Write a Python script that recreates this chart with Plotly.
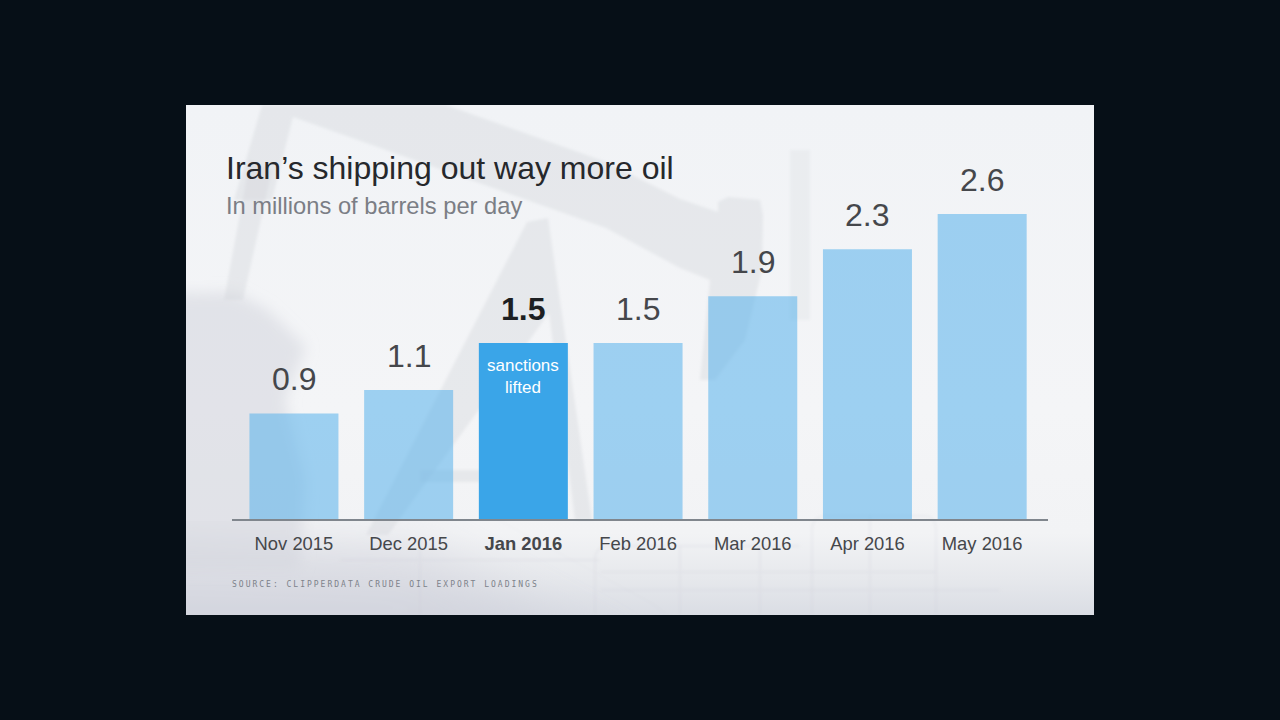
import base64
import plotly.graph_objects as go

months = ["Nov 2015", "Dec 2015", "Jan 2016", "Feb 2016", "Mar 2016", "Apr 2016", "May 2016"]
barrels = [0.9, 1.1, 1.5, 1.5, 1.9, 2.3, 2.6]
highlight = "Jan 2016"

W, H = 1280, 720

# faded oil pump picture behind the card, pixel coords of the page
background = """
<svg xmlns="http://www.w3.org/2000/svg" width="1280" height="720" viewBox="0 0 1280 720">
<defs>
<linearGradient id="card" x1="0" y1="0" x2="0" y2="1">
<stop offset="0" stop-color="#f1f3f6"/><stop offset="0.6" stop-color="#f4f5f7"/>
<stop offset="0.84" stop-color="#f2f3f5"/><stop offset="0.93" stop-color="#e6e8ec"/>
<stop offset="1" stop-color="#dadde4"/>
</linearGradient>
<filter id="soft"><feGaussianBlur stdDeviation="1.5"/></filter>
<filter id="mid"><feGaussianBlur stdDeviation="7"/></filter>
<filter id="haze"><feGaussianBlur stdDeviation="26"/></filter>
<clipPath id="c"><rect x="186" y="105" width="908" height="510"/></clipPath>
</defs>
<rect width="1280" height="720" fill="#060f17"/>
<rect x="186" y="105" width="908" height="510" fill="url(#card)"/>
<g clip-path="url(#c)">
<polygon points="130,535 420,545 650,670 130,670" fill="#c9cdd6" fill-opacity="0.45" filter="url(#haze)"/>
<polygon points="170,293 235,292 268,310 306,347 285,400 305,480 300,570 170,570" fill="#d3d6dd" fill-opacity="0.55" filter="url(#mid)"/>
<g filter="url(#soft)">
<g fill="#cfd2d8" fill-opacity="0.36">
<polygon points="262,105 446,105 606,162 680,199 718,212 718,202 728,197 760,200 763,215 762,270 745,340 715,380 700,380 710,280 680,268 606,228 293,117 272,200 234,200"/>
<polygon points="250,160 272,170 243,300 224,300"/>
<polygon points="527,222 548,218 592,520 575,520 549,313 388,535 366,535"/>
<polygon points="420,470 480,470 480,482 420,482"/>
</g>
<polygon points="790,150 810,150 810,320 790,320" fill="#d8dade" fill-opacity="0.28"/>
<g fill="none" stroke="#c8ccd3" stroke-opacity="0.28" stroke-width="1.5">
<path d="M595 615V560q0-14 14-14H800"/><path d="M812 615V530q0-14 14-14H924q12 0 12 14V615"/>
<path d="M600 572H936M600 590H1000M680 546V615M760 546V615M870 516V615"/>
<path d="M340 560H600M420 540V615"/>
</g>
</g>
</g>
</svg>
"""
background_uri = "data:image/svg+xml;base64," + base64.b64encode(background.encode()).decode()

bar_colors = ["#3aa5e8" if m == highlight else "rgba(90,178,235,0.56)" for m in months]
tick_labels = [f"<b>{m}</b>" if m == highlight else m for m in months]

fig = go.Figure(go.Bar(
    x=months,
    y=barrels,
    marker=dict(color=bar_colors, line_width=0),
    hoverinfo="skip",
))

# value labels above the bars
for m, v in zip(months, barrels):
    is_hl = m == highlight
    fig.add_annotation(
        x=m, y=v, yanchor="bottom", yshift=14, showarrow=False,
        text=f"<b>{v}</b>" if is_hl else str(v),
        font=dict(family="Liberation Sans", size=32, color="#1d1f22" if is_hl else "#45474b"),
    )

fig.add_annotation(
    x=highlight, y=barrels[months.index(highlight)], yanchor="top", yshift=-11,
    showarrow=False, text="sanctions<br>lifted", align="center",
    font=dict(family="Liberation Sans", size=17, color="#ffffff"),
)

fig.add_annotation(
    xref="paper", yref="paper", x=224 / W, y=1 - 206 / H, xanchor="left", yanchor="middle",
    showarrow=False, align="left", text="In millions of barrels per day",
    font=dict(family="Liberation Sans", size=23.7, color="#7b7e85"),
)
fig.add_annotation(
    xref="paper", yref="paper", x=230 / W, y=1 - 584 / H, xanchor="left", yanchor="middle",
    showarrow=False, align="left", text="SOURCE: CLIPPERDATA CRUDE OIL EXPORT LOADINGS",
    font=dict(family="DejaVu Sans Mono", size=8, color="#7d828a"),
)

fig.update_layout(
    width=W,
    height=H,
    margin=dict(l=0, r=0, t=0, b=0),
    paper_bgcolor="#060f17",
    plot_bgcolor="rgba(0,0,0,0)",
    showlegend=False,
    bargap=0.224,
    title=dict(
        text="Iran’s shipping out way more oil",
        x=226 / W, xanchor="left", y=1 - 168 / H, yanchor="middle",
        font=dict(family="Liberation Sans", size=32, color="#26282c"),
    ),
    images=[dict(
        source=background_uri, xref="paper", yref="paper", x=0, y=1, sizex=1, sizey=1,
        xanchor="left", yanchor="top", sizing="stretch", layer="below",
    )],
)

fig.update_xaxes(
    domain=[232 / W, 1048 / W],
    range=[-0.54, 6.574],
    tickmode="array", tickvals=months, ticktext=tick_labels,
    ticks="", showgrid=False, zeroline=False,
    showline=True, linecolor="#80868d", linewidth=2,
    tickfont=dict(family="Liberation Sans", size=18.4, color="#45474b"),
    ticklabelstandoff=7,
)
fig.update_yaxes(
    domain=[1 - 519 / H, 1 - 119 / H],
    range=[0, 3.41],
    visible=False,
)

# body margin off so the figure sits flush, wider spacing for the source line
post = """
document.body.style.margin = '0';
document.querySelectorAll('.annotation-text').forEach(function (t) {
  if (t.textContent.indexOf('SOURCE') === 0) { t.style.letterSpacing = '2px'; }
});
"""
fig.write_html("out.html", post_script=post, config=dict(displayModeBar=False))
